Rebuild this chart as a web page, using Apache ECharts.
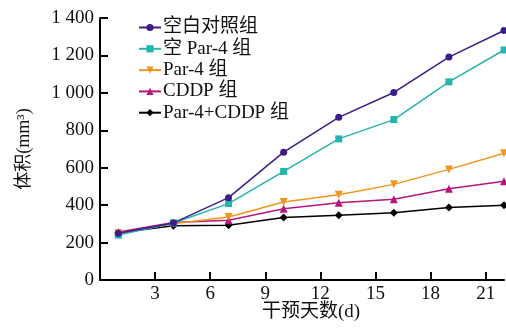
<!DOCTYPE html>
<html><head><meta charset="utf-8">
<script src="https://cdn.jsdelivr.net/npm/echarts@6/dist/echarts.min.js"></script>
<style>html,body{margin:0;padding:0;background:#fff}#c{width:506px;height:329px}</style>
</head><body><div id="c"></div>
<script>
const days = [1, 4, 7, 10, 13, 16, 19, 22];
const seriesNames = ['空白对照组', '空 Par-4 组', 'Par-4 组', 'CDDP 组', 'Par-4+CDDP 组'];
const blank = [250, 305, 440, 683, 869, 1002, 1191, 1333];
const emptyPar4 = [240, 305, 408, 580, 754, 857, 1059, 1229];
const par4 = [250, 300, 337, 417, 456, 511, 591, 677];
const cddp = [256, 307, 319, 381, 413, 431, 488, 528];
const combo = [252, 290, 293, 334, 346, 360, 388, 399];
const yTicks = [0, 200, 400, 600, 800, 1000, 1200, 1400];

const colors = ['#3d1c8a', '#26b5ae', '#f0961e', '#b5177f', '#000000'];
const symbols = ['circle', 'rect', 'path://M0,0 L10,0 L5,9 Z', 'triangle', 'diamond'];
const sizes = [7, 7, 8, 8, 8];
const values = [blank, emptyPar4, par4, cddp, combo];
const font = '"Liberation Serif","Noto Sans CJK SC",serif';

const chart = echarts.init(document.getElementById('c'));
chart.setOption({
  animation: false,
  grid: {left: 100, top: 18, right: 2, bottom: 49, outerBoundsMode: 'none', containLabel: false},
  legend: {
    left: 133, top: 13, orient: 'vertical', itemGap: 2.3, itemWidth: 22, itemHeight: 9,
    textStyle: {fontFamily: font, fontSize: 19, lineHeight: 19, color: '#111', padding: [0,0,0,-3]},
    data: seriesNames
  },
  xAxis: {
    type: 'value', min: 0, max: 22, interval: 3,
    name: '干预天数(d)', nameLocation: 'middle', nameGap: 23, nameMoveOverlap: false,
    nameTextStyle: {fontFamily: font, fontSize: 19, color: '#111', padding: [0,0,0,18]},
    axisLine: {lineStyle: {color: '#000', width: 2}},
    axisTick: {inside: true, length: 8, lineStyle: {width: 2, color: '#000'}},
    axisLabel: {fontFamily: font, fontSize: 19, color: '#111', margin: 5,
      formatter: v => v === 0 ? '' : String(v)},
    splitLine: {show: false}
  },
  yAxis: {
    type: 'value', min: 0, max: 1400, interval: 200,
    name: '体积(mm³)', nameLocation: 'middle', nameGap: 67, nameRotate: 90, nameMoveOverlap: false,
    nameTextStyle: {fontFamily: font, fontSize: 18, color: '#111'},
    axisLine: {show: true, lineStyle: {color: '#000', width: 2}},
    axisTick: {show: true, inside: true, length: 8, lineStyle: {width: 2, color: '#000'}},
    axisLabel: {fontFamily: font, fontSize: 19, color: '#111', margin: 6,
      formatter: v => v >= 1000 ? Math.floor(v/1000) + ' ' + String(v % 1000).padStart(3, '0') : String(v)},
    splitLine: {show: false}
  },
  series: seriesNames.map((n, i) => ({
    name: n, type: 'line', data: days.map((d, j) => [d, values[i][j]]),
    symbol: symbols[i], symbolSize: sizes[i], showSymbol: true,
    lineStyle: {color: colors[i], width: 1.5},
    itemStyle: {color: colors[i]}, z: 10 - i
  }))
});
</script></body></html>
